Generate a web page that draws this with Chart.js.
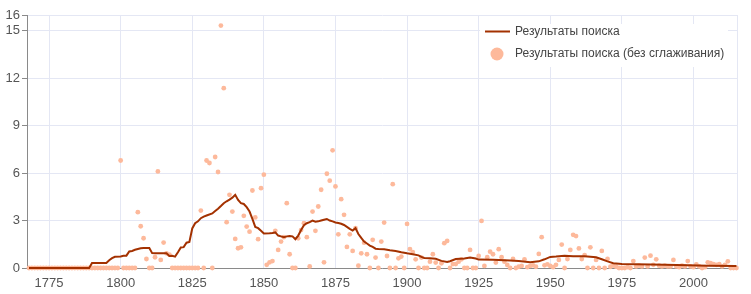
<!DOCTYPE html>
<html>
<head>
<meta charset="utf-8">
<script src="https://cdn.jsdelivr.net/npm/chart.js@4"></script>
<style>
    html, body { margin: 0; padding: 0; background: #fff; }
    #wrap { position: relative; width: 751px; height: 294px; }
</style>
</head>
<body>
<div id="wrap"><canvas id="ngram-chart" width="751" height="294"></canvas></div>
<script>
// raw yearly values, first one is 1768
const FIRST_YEAR = 1768;
const rawValues = [
    0, 0,
    0, 0, 0, 0, 0, 0, 0, 0, 0, 0,
    0, 0, 0, 0, 0, 0, 0, 0, 0, 0,
    0, 0, 0, 0, 0, 0, 0, 0, 0, 0,
    6.8, 0, 0, 0, 0, 0, 3.53, 2.64, 1.88, 0.57,
    0, 0, 0.68, 6.11, 0.51, 1.61, 0.93, 0.85, 0, 0,
    0, 0, 0, 0, 0, 0, 0, 0, 3.63, 0,
    6.8, 6.64, 0, 7.02, 6.07, 15.33, 11.37, 2.9, 4.63, 3.57,
    1.84, 1.25, 1.31, 3.3, 2.62, 2.3, 4.9, 3.2, 1.82, 5.05,
    5.9, 0.2, 0.36, 0.44, 2.35, 1.14, 1.67, 1.95, 4.1, 0.87,
    0, 0, 1.88, 2.4, 2.83, 1.95, 0.1, 3.57, 2.35, 3.89,
    4.95, 0.36, 5.96, 5.52, 7.44, 5.16, 2.13, 4.35, 3.36, 1.33,
    2.13, 1.08, 2.52, 0.15, 0.93, 1.6, 0.87, 0, 1.78, 0.66,
    0, 1.67, 2.87, 0.76, 0, 5.3, 0, 0.61, 0.72, 0,
    2.79, 1.2, 1.01, 0.55, 0, 0.66, 0, 0, 0.4, 0.87,
    0.34, 0, 0.3, 1.57, 1.71, 0, 0.25, 0.25, 0.4, 0.55,
    0, 0, 1.14, 0, 0, 0.76, 2.98, 0.13, 0.68, 1.03,
    0.87, 0.34, 1.19, 0.68, 0.4, 0.19, 0, 0.57, 0, 0.08,
    0.13, 0.55, 0.05, 0.13, 0.17, 0.08, 0.89, 1.95, 0.17, 0.23,
    0.13, 0.05, 0.2, 0.51, 1.48, 0, 0.57, 1.14, 2.1, 2.02,
    1.24, 0.57, 0.82, 0, 1.31, 0, 0.51, 0, 1.08, 0,
    0.57, 0.08, 0.15, 0.08, 0, 0, 0, 0.05, 0, 0.44,
    0.1, 0.15, 0.1, 0.66, 0.1, 0.78, 0.2, 0.55, 0.15, 0.1,
    0.15, 0.1, 0.1, 0.51, 0.1, 0.05, 0.15, 0.1, 0.44, 0.1,
    0.05, 0.23, 0.1, 0, 0.05, 0.36, 0.3, 0.25, 0.2, 0.25,
    0.1, 0.2, 0.42, 0, 0, 0
];

const smoothYears = [
    1768, 1789, 1790, 1795, 1796, 1797, 1798, 1800, 1801, 1802, 1803, 1804, 1805, 1806, 1807, 1808, 1809, 1810,
    1811, 1812, 1816, 1817, 1818, 1819, 1820, 1821, 1822, 1823, 1824, 1825, 1826, 1827, 1828, 1829, 1830,
    1832, 1833, 1834, 1835, 1836, 1837, 1838, 1839, 1840, 1841, 1842, 1843, 1844, 1845, 1846, 1847, 1848,
    1849, 1850, 1852, 1853, 1854, 1855, 1856, 1857, 1858, 1859, 1860, 1861, 1862, 1863, 1864, 1865, 1866,
    1867, 1868, 1869, 1870, 1871, 1872, 1873, 1874, 1875, 1876, 1877, 1878, 1879, 1880, 1881, 1882, 1883,
    1884, 1885, 1886, 1887, 1888, 1889, 1890, 1892, 1894, 1896, 1898, 1900, 1902, 1904, 1905, 1906, 1908,
    1910, 1912, 1914, 1915, 1917, 1920, 1922, 1924, 1925, 1930, 1936, 1939, 1943, 1946, 1948, 1950, 1952,
    1955, 1958, 1962, 1966, 1968, 1970, 1972, 1975, 1980, 1990, 1998, 2005, 2015
];
const smoothValues = [
    0, 0, 0.32, 0.32, 0.49, 0.62, 0.71, 0.73, 0.77, 0.78, 1.05, 1.08, 1.15, 1.2, 1.25, 1.27, 1.27, 1.26,
    0.94, 0.93, 0.93, 0.76, 0.77, 0.72, 1.0, 1.3, 1.32, 1.6, 1.65, 2.5, 2.83, 2.95, 3.15, 3.25, 3.32,
    3.45, 3.6, 3.75, 3.92, 4.1, 4.22, 4.33, 4.45, 4.63, 4.3, 4.1, 4.05, 3.85, 3.57, 3.1, 2.6, 2.52,
    2.35, 2.18, 2.2, 2.22, 2.25, 2.05, 2.0, 1.95, 2.0, 2.03, 2.0, 1.82, 2.05, 2.4, 2.7, 2.83, 2.9,
    3.0, 2.93, 2.95, 3.0, 3.05, 3.1, 3.0, 2.95, 2.88, 2.85, 2.8, 2.72, 2.6, 2.48, 2.37, 2.52, 2.15,
    1.9, 1.67, 1.55, 1.42, 1.33, 1.22, 1.2, 1.18, 1.12, 1.08, 1.0, 0.93, 0.87, 0.8, 0.7, 0.63, 0.62,
    0.58, 0.45, 0.38, 0.43, 0.57, 0.6, 0.66, 0.6, 0.53, 0.52, 0.48, 0.44, 0.36, 0.42, 0.55, 0.7, 0.72,
    0.77, 0.74, 0.74, 0.68, 0.55, 0.42, 0.3, 0.25, 0.23, 0.2, 0.17, 0.15, 0.13
];

const xTicks = [1775, 1800, 1825, 1850, 1875, 1900, 1925, 1950, 1975, 2000];
const yTicks = [0, 3, 6, 9, 12, 15, 16];

const lineLabel = 'Результаты поиска';
const dotsLabel = 'Результаты поиска (без сглаживания)';

const LINE_COLOR = '#a33100';
const DOT_COLOR = '#fdb99b';
const GRID_COLOR = '#e4e7f4';
const AXIS_COLOR = '#8a8a8a';
const FONT = '"Liberation Sans", Arial, sans-serif';

const rawPoints = rawValues.map((v, i) => ({ x: FIRST_YEAR + i, y: v }));
const smoothPoints = smoothYears.map((yr, i) => ({ x: yr, y: smoothValues[i] }));

// right border of the plot + legend box drawn inside the plot
const extrasPlugin = {
    id: 'extras',
    beforeDatasetsDraw(chart) {
        const { ctx, chartArea: a } = chart;
        ctx.save();
        ctx.strokeStyle = GRID_COLOR;
        ctx.lineWidth = 1;
        ctx.beginPath();
        ctx.moveTo(Math.round(a.right) + 0.5, a.top);
        ctx.lineTo(Math.round(a.right) + 0.5, a.bottom);
        ctx.stroke();
        ctx.restore();
    },
    afterDraw(chart) {
        const { ctx } = chart;
        ctx.save();
        ctx.fillStyle = '#fff';
        ctx.fillRect(480, 24, 248, 43);

        ctx.strokeStyle = LINE_COLOR;
        ctx.lineWidth = 2;
        ctx.beginPath();
        ctx.moveTo(485, 31.5);
        ctx.lineTo(510, 31.5);
        ctx.stroke();

        ctx.fillStyle = DOT_COLOR;
        ctx.beginPath();
        ctx.arc(497, 54, 6.5, 0, Math.PI * 2);
        ctx.fill();

        ctx.fillStyle = '#444';
        ctx.font = '12px ' + FONT;
        ctx.textBaseline = 'middle';
        ctx.fillText(lineLabel, 515, 31.5);
        ctx.fillText(dotsLabel, 515, 54);
        ctx.restore();
    }
};

new Chart(document.getElementById('ngram-chart'), {
    type: 'scatter',
    data: {
        datasets: [
            {
                label: lineLabel,
                data: smoothPoints,
                showLine: true,
                borderColor: LINE_COLOR,
                borderWidth: 2,
                pointRadius: 0,
                tension: 0,
                clip: false
            },
            {
                label: dotsLabel,
                data: rawPoints,
                backgroundColor: DOT_COLOR,
                borderWidth: 0,
                pointRadius: 2.4,
                clip: false
            }
        ]
    },
    options: {
        responsive: false,
        animation: false,
        devicePixelRatio: 1,
        layout: { padding: { top: 15, right: 14, left: 0, bottom: 0 } },
        plugins: {
            legend: { display: false },
            tooltip: { enabled: false }
        },
        scales: {
            x: {
                type: 'linear',
                min: 1767.3,
                max: 2015.2,
                afterBuildTicks: axis => { axis.ticks = xTicks.map(v => ({ value: v })); },
                afterFit: axis => { axis.height = 26; },
                grid: { color: GRID_COLOR, drawTicks: false },
                border: { color: AXIS_COLOR },
                ticks: {
                    color: '#555',
                    font: { family: FONT, size: 13 },
                    padding: 8,
                    maxRotation: 0,
                    autoSkip: false,
                    callback: v => String(v)
                }
            },
            y: {
                min: 0,
                max: 16,
                afterBuildTicks: axis => { axis.ticks = yTicks.map(v => ({ value: v })); },
                afterFit: axis => { axis.width = 27; },
                grid: { color: GRID_COLOR, tickColor: AXIS_COLOR, tickLength: 5 },
                border: { color: AXIS_COLOR },
                ticks: {
                    color: '#555',
                    font: { family: FONT, size: 13 },
                    padding: 2,
                    autoSkip: false
                }
            }
        }
    },
    plugins: [extrasPlugin]
});
</script>
</body>
</html>
